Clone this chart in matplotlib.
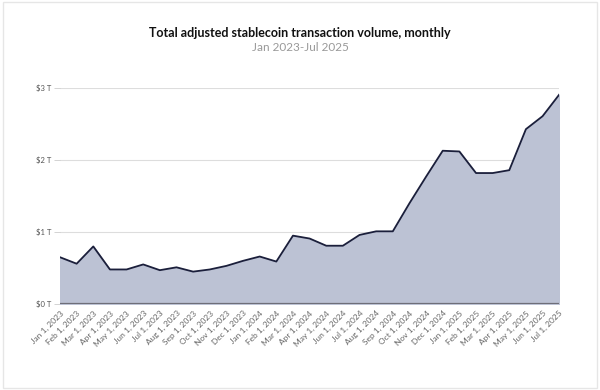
import matplotlib.pyplot as plt
import numpy as np

months = ["Jan", "Feb", "Mar", "Apr", "May", "Jun", "Jul", "Aug", "Sep", "Oct", "Nov", "Dec"]
labels = [f"{m} 1, {y}" for y in (2023, 2024, 2025) for m in months][:31]

# monthly volume, trillions of USD
volume = [0.65, 0.56, 0.80, 0.48, 0.48, 0.55, 0.47, 0.51, 0.45, 0.48, 0.53, 0.60,
          0.66, 0.59, 0.95, 0.91, 0.81, 0.81, 0.96, 1.01, 1.01, 1.40, 1.77, 2.13,
          2.12, 1.82, 1.82, 1.86, 2.43, 2.61, 2.91]
yticks = [0, 1, 2, 3]
ylabels = ["$0 T", "$1 T", "$2 T", "$3 T"]

plt.rcParams['font.family'] = ['Lato', 'DejaVu Sans']

fig = plt.figure(figsize=(6, 3.9), dpi=100)
ax = fig.add_axes([0.1, 0.2205, 0.832, 0.5535])

x = np.arange(len(volume))
ax.fill_between(x, volume, 0, color="#bcc2d4", zorder=2)
ax.plot(x, volume, color="#1b1f3b", lw=1.3, zorder=3)
ax.axhline(0, color="#6e6e78", lw=1.6, zorder=4)

ax.set_xlim(0, len(volume) - 1)
ax.set_ylim(0, 3)
ax.set_yticks(yticks)
ax.set_yticklabels(ylabels, fontsize=5.5, color="#555555")
ax.set_xticks(x)
ax.set_xticklabels(labels, rotation=45, ha="right", rotation_mode="anchor",
                   fontsize=6, color="#666666")
ax.tick_params(axis="y", length=4, width=0.6, color="#cccccc", pad=2)
ax.tick_params(axis="x", length=0, pad=4)
ax.grid(axis="y", color="#dddddd", lw=0.8, zorder=1)
for s in ax.spines.values():
    s.set_visible(False)

fig.text(0.5, 0.915, "Total adjusted stablecoin transaction volume, monthly",
         ha="center", va="center", fontsize=9, fontweight="bold", color="#111111")
fig.text(0.5, 0.877, "Jan 2023-Jul 2025", ha="center", va="center",
         fontsize=8.5, color="#999999")

fig.patches.append(plt.Rectangle((0.005, 0.005), 0.99, 0.99, transform=fig.transFigure,
                                 fill=False, edgecolor="#e6e6e6", lw=1))

fig.savefig("out.png", dpi=100, facecolor="white")
